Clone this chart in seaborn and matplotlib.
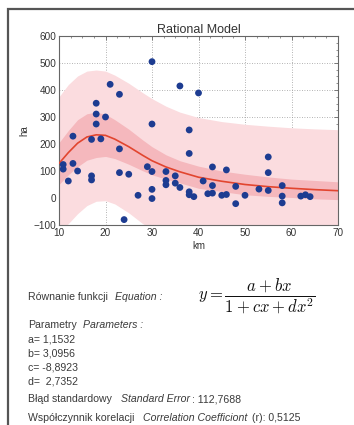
import numpy as np
import pandas as pd
import matplotlib
matplotlib.use("Agg")
import matplotlib.pyplot as plt
import seaborn as sns
from matplotlib.ticker import MultipleLocator
from matplotlib.patches import Rectangle

# ---- data ----
km = [10.9, 10.9, 12, 13, 13, 14, 17, 17, 17, 18, 18, 18, 19, 20, 21, 23, 23, 23, 24, 25,
      27, 29, 30, 30, 30, 30, 30, 33, 33, 33, 35, 35, 36, 36, 38, 38, 38, 38, 39, 40,
      41, 42, 43, 43, 43, 45, 46, 46, 48, 48, 50, 53, 55, 55, 55, 58, 58, 58, 62, 63, 64]
ha = [124, 107, 63, 229, 128, 100, 82, 67, 217, 351, 311, 274, 219, 300, 421, 384, 182, 94, -80, 88,
      10, 116, 505, 274, 98, 32, -2, 98, 65, 49, 82, 55, 415, 39, 252, 165, 23, 12, 5, 389,
      63, 16, 115, 46, 18, 10, 13, 104, 43, -21, 10, 33, 152, 94, 28, 46, 7, -18, 7, 12, 5]

curve_x = [10, 12, 14, 16, 18, 20, 22, 25, 28, 30, 33, 36, 40, 45, 50, 55, 60, 65, 70]
curve_y = [128, 168, 203, 226, 234, 232, 218, 190, 158, 138, 115, 97, 77, 62, 50, 42, 36, 31, 27]
conf_hi = [205, 250, 290, 312, 318, 310, 290, 255, 215, 190, 160, 138, 118, 100, 88, 78, 70, 65, 60]
conf_lo = [50, 86, 116, 140, 150, 154, 146, 125, 101, 86, 70, 56, 36, 24, 12, 6, 2, -3, -6]
pred_hi = [375, 420, 452, 470, 474, 470, 455, 425, 390, 368, 340, 318, 298, 283, 273, 266, 260, 256, 253]
pred_lo = [-125, -95, -58, -28, -12, -10, -22, -55, -95, -115, -135, -150, -165, -175, -182, -188, -192, -196, -199]

x_ticks = [10, 20, 30, 40, 50, 60, 70]
y_ticks = [-100, 0, 100, 200, 300, 400, 500, 600]

title = "Rational Model"
xlabel = "km"
ylabel = "ha"
params = [("a=", "1,1532"), ("b=", "3,0956"), ("c=", "-8,8923"), ("d=", " 2,7352")]
std_err = "112,7688"
corr = "0,5125"

# ---- figure ----
sns.set_style("white")
plt.rcParams["font.family"] = ["Liberation Sans", "DejaVu Sans"]
plt.rcParams["mathtext.fontset"] = "cm"

W, H = 354, 425
fig = plt.figure(figsize=(W / 100, H / 100), dpi=100)
fig.patch.set_facecolor("white")

# outer frame
fig.patches.append(Rectangle((8 / W, -0.05), 1.2, (H - 9) / H + 0.05, transform=fig.transFigure,
                             fill=False, edgecolor="#555555", linewidth=1.6))

ax = fig.add_axes([59 / W, 1 - 225 / H, 279 / W, 189 / H])

df_pts = pd.DataFrame({"km": km, "ha": ha})
df_cur = pd.DataFrame({"km": curve_x, "ha": curve_y})

ax.fill_between(curve_x, pred_lo, pred_hi, color="#fbdcdf", linewidth=0, zorder=1)
ax.fill_between(curve_x, conf_lo, conf_hi, color="#f5b8bd", linewidth=0, zorder=2)
sns.lineplot(data=df_cur, x="km", y="ha", ax=ax, color="#e2452f", linewidth=1.2, zorder=3)
sns.scatterplot(data=df_pts, x="km", y="ha", ax=ax, color="#1d3c91", s=24, edgecolor="none", zorder=4)

ax.set_xlim(10, 70)
ax.set_ylim(-100, 600)
ax.set_xticks(x_ticks)
ax.set_yticks(y_ticks)
ax.xaxis.set_minor_locator(MultipleLocator(2.5))
ax.yaxis.set_minor_locator(MultipleLocator(25))
ax.tick_params(which="both", direction="in", top=True, right=True, colors="#666666",
               labelcolor="#333333", labelsize=7.2, pad=2)
ax.tick_params(which="major", length=3, width=0.6)
ax.tick_params(which="minor", length=1.5, width=0.5)
ax.grid(True, which="major", linestyle=(0, (1, 2)), color="#9a9a9a", linewidth=0.6)
ax.set_axisbelow(True)
for sp in ax.spines.values():
    sp.set_color("#666666")
    sp.set_linewidth(0.8)

ax.set_title(title, fontsize=9, color="#333333", pad=2)
ax.set_xlabel(xlabel, fontsize=7, color="#333333", labelpad=2)
ax.set_ylabel(ylabel, fontsize=7, color="#333333", labelpad=3)

# ---- text block ----
tc = "#3a3a3a"
fs = 7.6
fig.canvas.draw()
renderer = fig.canvas.get_renderer()


def chain(x, y, parts, fontsize=fs):
    """Draw text segments one after another on one line (pixel coords from top-left)."""
    cur = x
    for s, style, gap in parts:
        t = fig.text(cur / W, 1 - y / H, s, va="center", ha="left", fontsize=fontsize,
                     color=tc, style=style)
        bb = t.get_window_extent(renderer=renderer)
        cur += bb.width + gap


chain(28, 297, [("Równanie funkcji", "normal", 7), ("Equation :", "italic", 0)])
fig.text(198 / W, 1 - 296 / H, r"$y=\dfrac{a+bx}{1+cx+dx^2}$", fontsize=12,
         color="#111111", va="center", ha="left")

chain(28, 325, [("Parametry", "normal", 6), ("Parameters :", "italic", 0)])
for i, (k, v) in enumerate(params):
    chain(28, 340 + 13.7 * i, [(f"{k} {v}", "normal", 0)])

chain(28, 399, [("Błąd standardowy", "normal", 9), ("Standard Error", "italic", 2),
                (": " + std_err, "normal", 0)])
chain(28, 418, [("Współczynnik korelacji", "normal", 9), ("Correlation Coefficiont", "italic", 4),
                ("(r): " + corr, "normal", 0)])

fig.savefig("out.png", dpi=100)
